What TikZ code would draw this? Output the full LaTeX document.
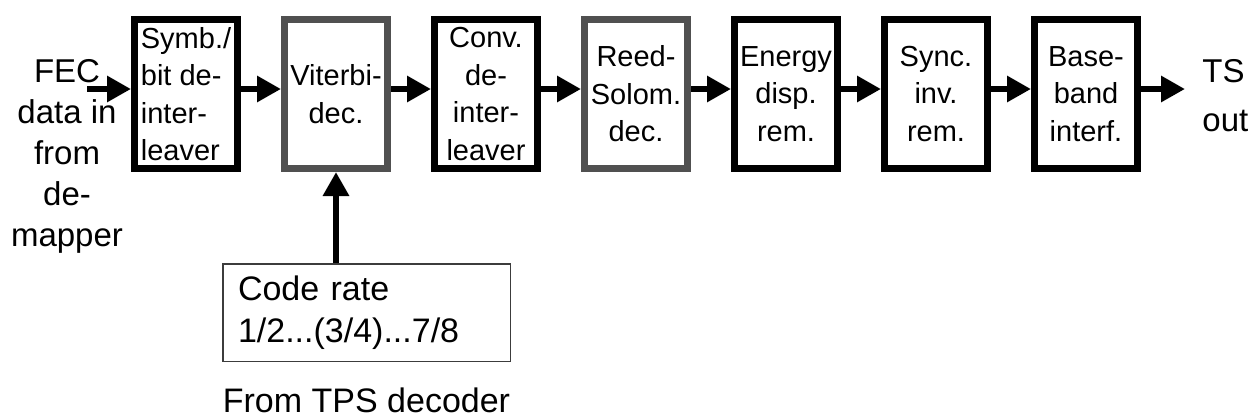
\documentclass[tikz,border=0pt]{standalone}
\usepackage{fontspec}
\setmainfont{Liberation Sans}
\usetikzlibrary{arrows.meta, positioning}
\definecolor{boxgray}{RGB}{80,80,80}
\definecolor{rategray}{RGB}{60,60,60}
\tikzset{
    blk/.style={draw, line width=3.5pt, minimum width=51.5pt, minimum height=74.5pt,
        inner sep=0pt, align=center, font=\fontsize{14.5pt}{18.75pt}\selectfont},
    grayblk/.style={blk, draw=boxgray},
    flow/.style={line width=3pt, -{Triangle[length=12pt, width=12.5pt]}},
    ratebox/.style={draw=rategray, line width=0.75pt, minimum width=143.75pt, minimum height=48.75pt,
        inner xsep=7.6pt, text width=128.5pt, align=left, font=\fontsize{17pt}{21pt}\selectfont},
}

\begin{document}
\begin{tikzpicture}[x=0.5pt, y=-0.5pt]
        \useasboundingbox (0,0) rectangle (1253,419);
        % Draw the chain of blocks
            \node[blk, align=left] (symb) at (186,94) {Symb./\\bit de-\\inter-\\leaver};
            \node[grayblk, right=20pt of symb] (vit) {Viterbi-\\dec.};
            \node[blk, right=20pt of vit] (conv) {Conv.\\de-\\inter-\\leaver};
            \node[grayblk, right=20pt of conv] (rs) {Reed-\\Solom.\\dec.};
            \node[blk, right=20pt of rs] (edisp) {Energy\\disp.\\rem.};
            \node[blk, right=20pt of edisp] (sync) {Sync.\\inv.\\rem.};
            \node[blk, right=20pt of sync] (bbif) {Base-\\band\\interf.};
        % Input and output texts
            \node[align=center, inner sep=0pt, font=\fontsize{16.5pt}{20.5pt}\selectfont] (src) at (67,156)
                {FEC\\data in\\from\\de-\\mapper};
            \coordinate (src-out) at (87,89);
            \node[anchor=north west, align=left, inner sep=0pt, font=\fontsize{16.5pt}{24.5pt}\selectfont] (ts) at (1202,59)
                {TS\\out};
            \coordinate (ts-in) at (1185,89);
        % Code rate box
            \node[ratebox] (rate) at (366.5,312.5) {Code rate\\1/2...(3/4)...7/8};
            \node[below=12.5pt of rate, inner sep=0pt, font=\fontsize{17pt}{21pt}\selectfont] (tps) {From TPS decoder};
        % Draw the arrows
            \draw[flow] (src-out) -- (symb.west |- src-out);
            \draw[flow] ([yshift=2.5pt]symb.east) -- ([yshift=2.5pt]vit.west);
            \draw[flow] ([yshift=2.5pt]vit.east) -- ([yshift=2.5pt]conv.west);
            \draw[flow] ([yshift=2.5pt]conv.east) -- ([yshift=2.5pt]rs.west);
            \draw[flow] ([yshift=2.5pt]rs.east) -- ([yshift=2.5pt]edisp.west);
            \draw[flow] ([yshift=2.5pt]edisp.east) -- ([yshift=2.5pt]sync.west);
            \draw[flow] ([yshift=2.5pt]sync.east) -- ([yshift=2.5pt]bbif.west);
            \draw[flow] (bbif.east |- ts-in) -- (ts-in);
            \draw[flow] (rate.north -| vit.south) -- (vit.south);
    \end{tikzpicture}
\end{document}
